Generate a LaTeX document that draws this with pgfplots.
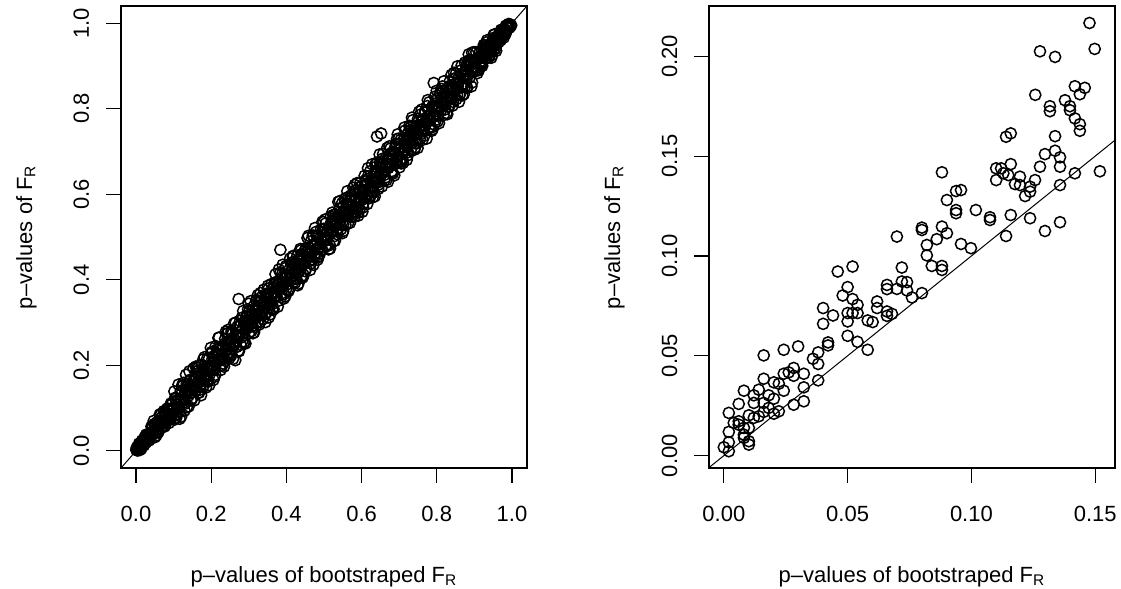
\documentclass[border=0pt]{standalone}
\usepackage{fontspec}
\setmainfont{Liberation Sans}
\usepackage{pgfplots}
\pgfplotsset{compat=1.18}
\pgfplotsset{
 rstyle/.style={
  scale only axis, width=203pt, height=231pt, anchor=south west,
  axis line style={line width=0.6pt},
  tick style={line width=0.6pt, black},
  tick align=outside, major tick length=7.5pt,
  xtick pos=bottom, ytick pos=left,
  /pgf/number format/assume math mode=true,
  tick label style={font=\fontsize{11}{13}\selectfont},
  label style={font=\fontsize{11}{13}\selectfont},
  xticklabel style={anchor=base, yshift=-19.5pt},
  yticklabel style={xshift=-8.5pt, rotate=90, anchor=base},
  xlabel style={at={(axis description cs:0.5,-0.2468)}, anchor=base},
  ylabel style={at={(axis description cs:-0.2192,0.5)}, anchor=base},
  clip=true,
 },
 pts/.style={only marks, mark=o, mark size=2.8pt, black, mark options={line width=0.75pt}},
}
\begin{document}
\begin{tikzpicture}
\useasboundingbox (0,0) rectangle (560.5pt,294.5pt);
% ---------------- left panel ----------------
\begin{axis}[rstyle, at={(60.5pt,60.5pt)},
  xmin=-0.04, xmax=1.04, ymin=-0.04, ymax=1.04,
  xtick={0,0.2,0.4,0.6,0.8,1}, xticklabels={0.0,0.2,0.4,0.6,0.8,1.0},
  ytick={0,0.2,0.4,0.6,0.8,1}, yticklabels={0.0,0.2,0.4,0.6,0.8,1.0},
  xlabel={p--values of bootstraped F\textsubscript{R}},
  ylabel={p--values of F\textsubscript{R}}]
\addplot[pts] coordinates {
(0.003,0.006)(0.006,0.002)(0.010,0.016)(0.013,0.011)(0.016,0.024)(0.020,0.014)(0.023,0.024)(0.026,0.019)(0.029,0.033)(0.033,0.030)
(0.036,0.038)(0.039,0.033)(0.043,0.053)(0.046,0.044)(0.049,0.063)(0.053,0.045)(0.056,0.057)(0.059,0.043)(0.062,0.069)(0.066,0.062)
(0.069,0.079)(0.072,0.059)(0.076,0.081)(0.079,0.085)(0.082,0.073)(0.086,0.098)(0.089,0.086)(0.092,0.108)(0.095,0.084)(0.099,0.101)
(0.102,0.073)(0.105,0.122)(0.109,0.098)(0.112,0.120)(0.115,0.091)(0.119,0.140)(0.122,0.119)(0.125,0.152)(0.128,0.113)(0.132,0.134)
(0.135,0.102)(0.138,0.152)(0.142,0.134)(0.145,0.164)(0.148,0.122)(0.152,0.162)(0.155,0.167)(0.158,0.140)(0.161,0.186)(0.165,0.159)
(0.168,0.199)(0.171,0.149)(0.175,0.179)(0.178,0.149)(0.181,0.198)(0.185,0.174)(0.188,0.196)(0.191,0.167)(0.194,0.215)(0.198,0.195)
(0.201,0.228)(0.204,0.189)(0.208,0.210)(0.211,0.178)(0.214,0.228)(0.218,0.210)(0.221,0.240)(0.224,0.198)(0.227,0.237)(0.231,0.243)
(0.234,0.216)(0.237,0.262)(0.241,0.235)(0.244,0.275)(0.247,0.225)(0.251,0.255)(0.254,0.225)(0.257,0.274)(0.260,0.249)(0.264,0.272)
(0.267,0.243)(0.270,0.291)(0.274,0.271)(0.277,0.304)(0.280,0.265)(0.284,0.286)(0.287,0.254)(0.290,0.304)(0.293,0.285)(0.297,0.316)
(0.300,0.274)(0.303,0.313)(0.307,0.319)(0.310,0.292)(0.313,0.338)(0.317,0.311)(0.320,0.351)(0.323,0.301)(0.326,0.330)(0.330,0.301)
(0.333,0.350)(0.336,0.325)(0.340,0.348)(0.343,0.319)(0.346,0.367)(0.350,0.347)(0.353,0.380)(0.356,0.341)(0.359,0.361)(0.363,0.330)
(0.366,0.380)(0.369,0.361)(0.373,0.392)(0.376,0.350)(0.379,0.389)(0.383,0.395)(0.386,0.368)(0.389,0.414)(0.392,0.386)(0.396,0.427)
(0.399,0.377)(0.402,0.406)(0.406,0.377)(0.409,0.426)(0.412,0.401)(0.416,0.424)(0.419,0.395)(0.422,0.443)(0.425,0.422)(0.429,0.456)
(0.432,0.417)(0.435,0.437)(0.439,0.406)(0.442,0.456)(0.445,0.437)(0.449,0.468)(0.452,0.426)(0.455,0.465)(0.458,0.470)(0.462,0.444)
(0.465,0.490)(0.468,0.462)(0.472,0.503)(0.475,0.453)(0.478,0.482)(0.482,0.453)(0.485,0.502)(0.488,0.477)(0.491,0.499)(0.495,0.471)
(0.498,0.519)(0.501,0.498)(0.505,0.532)(0.508,0.493)(0.511,0.513)(0.515,0.482)(0.518,0.532)(0.521,0.513)(0.524,0.543)(0.528,0.502)
(0.531,0.541)(0.534,0.546)(0.538,0.520)(0.541,0.566)(0.544,0.538)(0.548,0.579)(0.551,0.529)(0.554,0.558)(0.557,0.528)(0.561,0.578)
(0.564,0.553)(0.567,0.575)(0.571,0.547)(0.574,0.595)(0.577,0.574)(0.581,0.608)(0.584,0.569)(0.587,0.589)(0.590,0.557)(0.594,0.608)
(0.597,0.589)(0.600,0.619)(0.604,0.578)(0.607,0.617)(0.610,0.622)(0.614,0.596)(0.617,0.642)(0.620,0.614)(0.623,0.654)(0.627,0.605)
(0.630,0.634)(0.633,0.604)(0.637,0.654)(0.640,0.629)(0.643,0.651)(0.647,0.623)(0.650,0.671)(0.653,0.650)(0.656,0.683)(0.660,0.645)
(0.663,0.665)(0.666,0.633)(0.670,0.684)(0.673,0.665)(0.676,0.695)(0.680,0.654)(0.683,0.693)(0.686,0.698)(0.689,0.671)(0.693,0.718)
(0.696,0.690)(0.699,0.730)(0.703,0.681)(0.706,0.710)(0.709,0.680)(0.713,0.730)(0.716,0.705)(0.719,0.727)(0.722,0.698)(0.726,0.747)
(0.729,0.726)(0.732,0.759)(0.736,0.721)(0.739,0.741)(0.742,0.709)(0.746,0.760)(0.749,0.741)(0.752,0.771)(0.755,0.729)(0.759,0.769)
(0.762,0.774)(0.765,0.747)(0.769,0.794)(0.772,0.766)(0.775,0.806)(0.779,0.757)(0.782,0.786)(0.785,0.756)(0.788,0.805)(0.792,0.781)
(0.795,0.803)(0.798,0.774)(0.802,0.823)(0.805,0.802)(0.808,0.835)(0.812,0.797)(0.815,0.817)(0.818,0.785)(0.821,0.835)(0.825,0.817)
(0.828,0.847)(0.831,0.805)(0.835,0.845)(0.838,0.850)(0.841,0.823)(0.845,0.870)(0.848,0.842)(0.851,0.882)(0.854,0.832)(0.858,0.862)
(0.861,0.832)(0.864,0.881)(0.868,0.857)(0.871,0.879)(0.874,0.850)(0.878,0.899)(0.881,0.878)(0.884,0.911)(0.887,0.872)(0.891,0.893)
(0.894,0.861)(0.897,0.911)(0.901,0.896)(0.904,0.915)(0.907,0.891)(0.911,0.917)(0.914,0.921)(0.917,0.906)(0.920,0.935)(0.924,0.920)
(0.927,0.946)(0.930,0.917)(0.934,0.936)(0.937,0.920)(0.940,0.950)(0.944,0.937)(0.947,0.952)(0.950,0.936)(0.953,0.966)(0.957,0.955)
(0.960,0.968)(0.963,0.959)(0.967,0.968)(0.970,0.960)(0.973,0.977)(0.977,0.975)(0.980,0.986)(0.983,0.975)(0.986,0.989)(0.990,0.994)
(0.005,0.003)(0.011,0.015)(0.018,0.013)(0.024,0.025)(0.031,0.037)(0.038,0.035)(0.044,0.044)(0.051,0.060)(0.057,0.044)(0.064,0.068)
(0.071,0.069)(0.077,0.090)(0.084,0.075)(0.090,0.096)(0.097,0.096)(0.104,0.124)(0.110,0.100)(0.117,0.110)(0.123,0.138)(0.130,0.110)
(0.137,0.142)(0.143,0.166)(0.150,0.137)(0.156,0.156)(0.163,0.181)(0.170,0.143)(0.176,0.185)(0.183,0.179)(0.189,0.215)(0.196,0.179)
(0.203,0.214)(0.209,0.208)(0.216,0.236)(0.222,0.212)(0.229,0.222)(0.236,0.251)(0.242,0.222)(0.249,0.254)(0.255,0.278)(0.262,0.249)
(0.269,0.269)(0.275,0.293)(0.282,0.255)(0.288,0.297)(0.295,0.291)(0.302,0.328)(0.308,0.291)(0.315,0.326)(0.321,0.320)(0.328,0.348)
(0.335,0.325)(0.341,0.334)(0.348,0.363)(0.354,0.334)(0.361,0.366)(0.368,0.391)(0.374,0.361)(0.381,0.381)(0.387,0.405)(0.394,0.367)
(0.401,0.410)(0.407,0.403)(0.414,0.440)(0.420,0.403)(0.427,0.438)(0.434,0.433)(0.440,0.460)(0.447,0.437)(0.453,0.446)(0.460,0.475)
(0.467,0.447)(0.473,0.478)(0.480,0.503)(0.486,0.473)(0.493,0.493)(0.500,0.518)(0.506,0.479)(0.513,0.522)(0.519,0.515)(0.526,0.552)
(0.533,0.516)(0.539,0.550)(0.546,0.545)(0.552,0.572)(0.559,0.549)(0.566,0.559)(0.572,0.587)(0.579,0.559)(0.585,0.590)(0.592,0.615)
(0.599,0.586)(0.605,0.605)(0.612,0.630)(0.618,0.591)(0.625,0.634)(0.632,0.628)(0.638,0.664)(0.645,0.628)(0.651,0.662)(0.658,0.657)
(0.665,0.685)(0.671,0.661)(0.678,0.671)(0.684,0.699)(0.691,0.671)(0.698,0.703)(0.704,0.727)(0.711,0.698)(0.717,0.717)(0.724,0.742)
(0.731,0.704)(0.737,0.746)(0.744,0.740)(0.750,0.776)(0.757,0.740)(0.764,0.775)(0.770,0.769)(0.777,0.797)(0.783,0.773)(0.790,0.783)
(0.797,0.812)(0.803,0.783)(0.810,0.815)(0.816,0.839)(0.823,0.810)(0.830,0.830)(0.836,0.854)(0.843,0.816)(0.849,0.858)(0.856,0.852)
(0.863,0.889)(0.869,0.852)(0.876,0.887)(0.882,0.881)(0.889,0.909)(0.896,0.886)(0.902,0.898)(0.909,0.918)(0.915,0.903)(0.922,0.925)
(0.929,0.943)(0.935,0.927)(0.942,0.942)(0.948,0.959)(0.955,0.939)(0.962,0.965)(0.968,0.967)(0.975,0.983)(0.981,0.976)(0.988,0.991)
(0.008,0.017)(0.014,0.005)(0.021,0.013)(0.027,0.038)(0.034,0.024)(0.041,0.057)(0.047,0.070)(0.054,0.036)(0.060,0.046)(0.067,0.087)
(0.074,0.093)(0.080,0.065)(0.087,0.065)(0.093,0.111)(0.100,0.081)(0.107,0.077)(0.113,0.155)(0.120,0.080)(0.126,0.159)(0.133,0.178)
(0.140,0.104)(0.146,0.118)(0.153,0.193)(0.159,0.197)(0.166,0.136)(0.173,0.130)(0.179,0.214)(0.186,0.148)(0.192,0.162)(0.199,0.241)
(0.206,0.166)(0.212,0.245)(0.219,0.264)(0.225,0.189)(0.232,0.204)(0.239,0.279)(0.245,0.283)(0.252,0.222)(0.258,0.215)(0.265,0.300)
(0.272,0.234)(0.278,0.248)(0.285,0.327)(0.291,0.251)(0.298,0.331)(0.305,0.350)(0.311,0.275)(0.318,0.290)(0.324,0.364)(0.331,0.369)
(0.338,0.308)(0.344,0.301)(0.351,0.386)(0.357,0.319)(0.364,0.334)(0.371,0.413)(0.377,0.337)(0.384,0.417)(0.390,0.435)(0.397,0.361)
(0.404,0.376)(0.410,0.450)(0.417,0.455)(0.423,0.393)(0.430,0.387)(0.437,0.472)(0.443,0.405)(0.450,0.420)(0.456,0.498)(0.463,0.423)
(0.470,0.503)(0.476,0.521)(0.483,0.447)(0.489,0.461)(0.496,0.536)(0.503,0.541)(0.509,0.479)(0.516,0.473)(0.522,0.557)(0.529,0.491)
(0.536,0.506)(0.542,0.584)(0.549,0.509)(0.555,0.588)(0.562,0.607)(0.569,0.533)(0.575,0.547)(0.582,0.622)(0.588,0.626)(0.595,0.565)
(0.602,0.559)(0.608,0.643)(0.615,0.577)(0.621,0.591)(0.628,0.670)(0.635,0.595)(0.641,0.674)(0.648,0.693)(0.654,0.618)(0.661,0.633)
(0.668,0.708)(0.674,0.712)(0.681,0.651)(0.687,0.644)(0.694,0.729)(0.701,0.663)(0.707,0.677)(0.714,0.756)(0.720,0.680)(0.727,0.760)
(0.734,0.779)(0.740,0.704)(0.747,0.719)(0.753,0.793)(0.760,0.798)(0.767,0.737)(0.773,0.730)(0.780,0.815)(0.786,0.748)(0.793,0.763)
(0.800,0.842)(0.806,0.766)(0.813,0.846)(0.819,0.864)(0.826,0.790)(0.833,0.805)(0.839,0.879)(0.846,0.884)(0.852,0.822)(0.859,0.816)
(0.866,0.901)(0.872,0.834)(0.879,0.849)(0.885,0.927)(0.892,0.852)(0.899,0.932)(0.905,0.932)(0.912,0.890)(0.918,0.901)(0.925,0.949)
(0.932,0.955)(0.938,0.920)(0.945,0.919)(0.951,0.972)(0.958,0.935)(0.965,0.956)(0.971,0.984)(0.978,0.966)(0.984,0.994)
(0.001,0.003)(0.008,0.006)(0.014,0.017)(0.021,0.020)(0.028,0.028)(0.034,0.037)(0.041,0.034)(0.047,0.049)(0.054,0.050)(0.061,0.068)
(0.067,0.062)(0.074,0.077)(0.080,0.076)(0.087,0.094)(0.094,0.092)(0.100,0.100)(0.107,0.117)(0.113,0.099)(0.120,0.123)(0.127,0.120)
(0.133,0.148)(0.140,0.129)(0.146,0.152)(0.153,0.144)(0.160,0.173)(0.166,0.162)(0.173,0.173)(0.179,0.189)(0.186,0.172)(0.193,0.196)
(0.199,0.192)(0.206,0.221)(0.212,0.201)(0.219,0.225)(0.226,0.217)(0.232,0.245)(0.239,0.235)(0.245,0.245)(0.252,0.262)(0.259,0.245)
(0.265,0.268)(0.272,0.265)(0.278,0.293)(0.285,0.274)(0.292,0.298)(0.298,0.289)(0.305,0.318)(0.311,0.307)(0.318,0.318)(0.325,0.335)
(0.331,0.317)(0.338,0.341)(0.344,0.337)(0.351,0.366)(0.358,0.347)(0.364,0.370)(0.371,0.362)(0.377,0.390)(0.384,0.380)(0.391,0.391)
(0.397,0.407)(0.404,0.390)(0.410,0.413)(0.417,0.410)(0.424,0.439)(0.430,0.419)(0.437,0.443)(0.443,0.434)(0.450,0.463)(0.457,0.453)
(0.463,0.463)(0.470,0.480)(0.476,0.462)(0.483,0.486)(0.490,0.483)(0.496,0.511)(0.503,0.492)(0.509,0.515)(0.516,0.507)(0.523,0.536)
(0.529,0.525)(0.536,0.536)(0.542,0.552)(0.549,0.535)(0.556,0.559)(0.562,0.555)(0.569,0.584)(0.575,0.564)(0.582,0.588)(0.589,0.580)
(0.595,0.608)(0.602,0.598)(0.608,0.608)(0.615,0.625)(0.622,0.608)(0.628,0.631)(0.635,0.628)(0.641,0.656)(0.648,0.637)(0.655,0.661)
(0.661,0.652)(0.668,0.681)(0.674,0.670)(0.681,0.681)(0.688,0.698)(0.694,0.680)(0.701,0.704)(0.707,0.700)(0.714,0.729)(0.721,0.710)
(0.727,0.733)(0.734,0.725)(0.740,0.753)(0.747,0.743)(0.754,0.754)(0.760,0.770)(0.767,0.753)(0.773,0.776)(0.780,0.773)(0.787,0.802)
(0.793,0.782)(0.800,0.806)(0.806,0.797)(0.813,0.826)(0.820,0.816)(0.826,0.826)(0.833,0.843)(0.839,0.825)(0.846,0.849)(0.853,0.846)
(0.859,0.874)(0.866,0.855)(0.872,0.878)(0.879,0.870)(0.886,0.899)(0.892,0.888)(0.899,0.899)(0.905,0.911)(0.912,0.904)(0.919,0.921)
(0.925,0.921)(0.932,0.941)(0.938,0.931)(0.945,0.949)(0.952,0.947)(0.958,0.966)(0.965,0.964)(0.971,0.971)(0.978,0.981)(0.985,0.981)
(0.010,0.002)(0.017,0.023)(0.023,0.032)(0.030,0.024)(0.036,0.026)(0.043,0.058)(0.050,0.032)(0.056,0.067)(0.063,0.085)(0.069,0.056)
(0.076,0.057)(0.083,0.099)(0.089,0.073)(0.096,0.109)(0.102,0.139)(0.109,0.085)(0.116,0.075)(0.122,0.152)(0.129,0.094)(0.135,0.157)
(0.142,0.186)(0.149,0.122)(0.155,0.118)(0.162,0.195)(0.168,0.136)(0.175,0.201)(0.182,0.219)(0.188,0.164)(0.195,0.154)(0.201,0.231)
(0.208,0.173)(0.215,0.237)(0.221,0.265)(0.228,0.201)(0.234,0.197)(0.241,0.274)(0.248,0.216)(0.254,0.280)(0.261,0.298)(0.267,0.243)
(0.274,0.233)(0.281,0.311)(0.287,0.252)(0.294,0.316)(0.300,0.344)(0.307,0.280)(0.314,0.277)(0.320,0.353)(0.327,0.295)(0.333,0.359)
(0.340,0.377)(0.347,0.323)(0.353,0.312)(0.360,0.390)(0.366,0.331)(0.373,0.395)(0.380,0.424)(0.386,0.359)(0.393,0.356)(0.399,0.432)
(0.406,0.374)(0.413,0.439)(0.419,0.456)(0.426,0.402)(0.432,0.391)(0.439,0.469)(0.446,0.411)(0.452,0.474)(0.459,0.503)(0.465,0.438)
(0.472,0.435)(0.479,0.512)(0.485,0.453)(0.492,0.518)(0.498,0.535)(0.505,0.481)(0.512,0.471)(0.518,0.548)(0.525,0.490)(0.531,0.553)
(0.538,0.582)(0.545,0.518)(0.551,0.514)(0.558,0.591)(0.564,0.532)(0.571,0.597)(0.578,0.615)(0.584,0.560)(0.591,0.550)(0.597,0.627)
(0.604,0.569)(0.611,0.633)(0.617,0.661)(0.624,0.597)(0.630,0.593)(0.637,0.670)(0.644,0.612)(0.650,0.676)(0.657,0.694)(0.663,0.639)
(0.670,0.629)(0.677,0.707)(0.683,0.648)(0.690,0.712)(0.696,0.740)(0.703,0.676)(0.710,0.673)(0.716,0.749)(0.723,0.691)(0.729,0.755)
(0.736,0.773)(0.743,0.719)(0.749,0.708)(0.756,0.786)(0.762,0.727)(0.769,0.791)(0.776,0.820)(0.782,0.755)(0.789,0.752)(0.795,0.828)
(0.802,0.770)(0.809,0.835)(0.815,0.852)(0.822,0.798)(0.828,0.787)(0.835,0.865)(0.842,0.807)(0.848,0.870)(0.855,0.899)(0.861,0.834)
(0.868,0.831)(0.875,0.908)(0.881,0.849)(0.888,0.914)(0.894,0.931)(0.901,0.887)(0.908,0.883)(0.914,0.932)(0.921,0.900)(0.927,0.940)
(0.934,0.960)(0.941,0.925)(0.947,0.925)(0.954,0.974)(0.960,0.950)(0.967,0.975)(0.974,0.985)(0.980,0.973)
(0.001,0.002)(0.002,0.008)(0.004,0.001)(0.008,0.004)(0.012,0.018)(0.015,0.009)(0.995,0.997)(0.993,0.989)(0.998,0.995)(0.991,0.998)
(0.985,0.993)(0.007,0.011)(0.996,0.992)
(0.264,0.212)(0.384,0.470)(0.652,0.742)(0.641,0.735)(0.792,0.860)(0.273,0.355)(0.705,0.672)(0.362,0.343)(0.582,0.548)
};
\addplot[black, line width=0.5pt, no marks] coordinates {(-0.1,-0.1) (1.1,1.1)};
\end{axis}
% ---------------- right panel ----------------
\begin{axis}[rstyle, at={(354.5pt,60.5pt)},
  xmin=-0.0060, xmax=0.1580, ymin=-0.0062, ymax=0.2252,
  xtick={0,0.05,0.1,0.15}, xticklabels={0.00,0.05,0.10,0.15},
  ytick={0,0.05,0.1,0.15,0.2}, yticklabels={0.00,0.05,0.10,0.15,0.20},
  xlabel={p--values of bootstraped F\textsubscript{R}},
  ylabel={p--values of F\textsubscript{R}}]
\addplot[pts] coordinates {
(0.1477,0.2167)(0.1498,0.2037)(0.1277,0.2025)(0.1338,0.1997)(0.1418,0.1850)(0.1458,0.1842)(0.1438,0.1810)(0.1258,0.1807)(0.1378,0.1780)(0.1317,0.1750)
(0.1317,0.1725)(0.1398,0.1750)(0.1398,0.1730)(0.1418,0.1689)(0.1438,0.1660)(0.1438,0.1627)(0.1140,0.1597)(0.1159,0.1614)(0.1338,0.1600)(0.1338,0.1527)
(0.1297,0.1510)(0.1358,0.1494)(0.1358,0.1447)(0.1277,0.1447)(0.1418,0.1414)(0.1519,0.1424)(0.1159,0.1460)(0.1100,0.1439)(0.1120,0.1439)(0.1129,0.1414)
(0.1149,0.1405)(0.1196,0.1397)(0.1257,0.1380)(0.1100,0.1380)(0.1176,0.1360)(0.1196,0.1355)(0.1237,0.1347)(0.1237,0.1322)(0.1217,0.1300)(0.1358,0.1355)
(0.0881,0.1419)(0.0938,0.1325)(0.0958,0.1330)(0.0901,0.1280)(0.0938,0.1230)(0.0938,0.1214)(0.1018,0.1230)(0.1075,0.1194)(0.1075,0.1180)(0.1159,0.1205)
(0.1237,0.1189)(0.1358,0.1169)(0.1297,0.1125)(0.1140,0.1100)(0.0699,0.1097)(0.0800,0.1142)(0.0800,0.1130)(0.0881,0.1147)(0.0901,0.1114)(0.0860,0.1084)
(0.0820,0.1055)(0.0958,0.1060)(0.0998,0.1039)(0.0820,0.1003)(0.0840,0.0950)(0.0881,0.0950)(0.0881,0.0930)(0.0460,0.0922)(0.0520,0.0947)(0.0719,0.0942)
(0.0659,0.0855)(0.0659,0.0834)(0.0699,0.0835)(0.0719,0.0872)(0.0740,0.0869)(0.0740,0.0827)(0.0760,0.0792)(0.0800,0.0814)(0.0500,0.0844)(0.0480,0.0802)
(0.0520,0.0784)(0.0540,0.0755)(0.0500,0.0714)(0.0520,0.0714)(0.0540,0.0714)(0.0500,0.0672)(0.0500,0.0600)(0.0540,0.0570)(0.0581,0.0530)(0.0581,0.0677)
(0.0601,0.0669)(0.0619,0.0772)(0.0619,0.0739)(0.0659,0.0722)(0.0659,0.0700)(0.0679,0.0710)(0.0401,0.0739)(0.0441,0.0702)(0.0401,0.0660)(0.0421,0.0567)
(0.0421,0.0552)(0.0381,0.0517)(0.0360,0.0485)(0.0381,0.0459)(0.0381,0.0377)(0.0161,0.0502)(0.0242,0.0530)(0.0300,0.0547)(0.0282,0.0439)(0.0262,0.0417)
(0.0282,0.0400)(0.0323,0.0410)(0.0242,0.0410)(0.0161,0.0385)(0.0202,0.0367)(0.0222,0.0360)(0.0242,0.0325)(0.0323,0.0342)(0.0282,0.0255)(0.0323,0.0272)
(0.0081,0.0325)(0.0141,0.0330)(0.0121,0.0302)(0.0181,0.0302)(0.0202,0.0285)(0.0121,0.0264)(0.0161,0.0264)(0.0060,0.0259)(0.0181,0.0239)(0.0161,0.0219)
(0.0202,0.0210)(0.0222,0.0222)(0.0101,0.0202)(0.0141,0.0197)(0.0020,0.0214)(0.0060,0.0172)(0.0060,0.0155)(0.0081,0.0139)(0.0101,0.0139)(0.0020,0.0119)
(0.0081,0.0105)(0.0081,0.0089)(0.0101,0.0072)(0.0101,0.0055)(0.0020,0.0067)(0.0000,0.0042)(0.0020,0.0022)(0.0040,0.0164)(0.0121,0.0189)
};
\addplot[black, line width=0.5pt, no marks] coordinates {(-0.02,-0.02) (0.2,0.2)};
\end{axis}
\end{tikzpicture}
\end{document}
